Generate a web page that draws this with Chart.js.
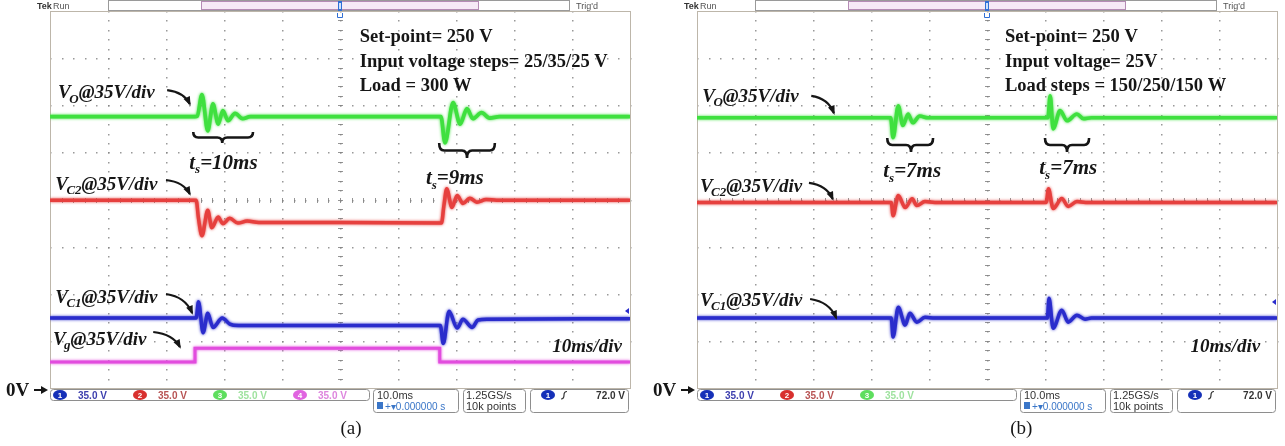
<!DOCTYPE html>
<html>
<head>
<meta charset="utf-8">
<script src="https://cdn.jsdelivr.net/npm/chart.js@4.4.1/dist/chart.umd.min.js"></script>
<style>
    html, body { margin: 0; padding: 0; background: #fff; }
    #wrap { position: relative; width: 1285px; height: 446px; overflow: hidden; }
    canvas { position: absolute; top: 0; }
    #scopeA { left: 0; }
    #scopeB { left: 647px; }
</style>
</head>
<body>
<div id="wrap">
    <canvas id="scopeA" width="640" height="446"></canvas>
    <canvas id="scopeB" width="638" height="446"></canvas>
</div>
<script>
'use strict';

// 10 ms/div over 10 divisions, 35 V/div over 8 divisions (0 V at the bottom edge)
const timeTicks = [0, 10, 20, 30, 40, 50, 60, 70, 80, 90, 100];
const voltTicks = [0, 35, 70, 105, 140, 175, 210, 245, 280];
const channelScales = ['35.0 V', '35.0 V', '35.0 V', '35.0 V'];

// (a) input voltage steps 25/35/25 V -- points are [ms, V]
const aVo = [[0, 201.5], [25.0, 201.5], [25.4, 202], [26.2, 218], [27.2, 191], [28.1, 211], [29.0, 196],
    [29.8, 206], [30.7, 198.5], [31.9, 204], [33.2, 200], [34.5, 201.5], [67.4, 201.5], [68.1, 182],
    [69.5, 212], [70.7, 196], [71.9, 207.5], [72.9, 200], [74.4, 204.5], [75.8, 200.5], [77.5, 201.5], [100, 201.5]];
const aVc2 = [[0, 139.5], [25.2, 139.5], [25.6, 126], [26.2, 113], [27.2, 132], [27.9, 119], [29.0, 127],
    [29.8, 122], [31.0, 126], [32.4, 122.5], [34.0, 124], [36.0, 123], [50.0, 123], [67.5, 122.5], [67.9, 135],
    [68.4, 148], [69.3, 134], [70.2, 143], [71.2, 137], [72.4, 141], [73.6, 138], [75.2, 140], [77.0, 139.5], [100, 139.5]];
const aVc1 = [[0, 52], [25.2, 52], [25.6, 64], [26.4, 41], [27.2, 55.5], [28.1, 45], [29.7, 52], [31.0, 47.5],
    [32.5, 46.5], [67.3, 46.5], [67.8, 33], [68.8, 57], [70.2, 44.5], [71.2, 51], [72.8, 45], [73.8, 50.5],
    [75.5, 51], [100, 51.5]];
const aVg = [[0, 19.3], [25.0, 19.3], [25.0, 29.6], [67.2, 29.6], [67.2, 19.3], [100, 19.3]];

// (b) load steps 150/250/150 W -- points are [ms, V]
const bVo = [[0, 200.7], [33.4, 200.7], [33.8, 186], [34.7, 209.5], [35.5, 195], [36.4, 203.5], [37.2, 197],
    [38.4, 202], [39.8, 200.7], [60.5, 200.7], [60.9, 217], [61.4, 192.5], [62.6, 206], [63.8, 198.5],
    [65.5, 203.5], [66.6, 200], [68.0, 200.7], [100, 200.7]];
const bVc2 = [[0, 137.8], [33.5, 137.8], [33.8, 128], [34.7, 143], [35.9, 134], [37.1, 140.5], [37.9, 135.5],
    [39.3, 138.5], [41.0, 137.8], [60.2, 137.8], [60.6, 148], [61.4, 133.3], [62.9, 140.7], [64.0, 134.8],
    [65.5, 138.5], [67.0, 137.8], [100, 137.8]];
const bVc1 = [[0, 51.9], [33.5, 51.9], [33.8, 37.8], [34.7, 60], [35.9, 46.7], [36.7, 55.6], [37.9, 48.9],
    [39.3, 52.6], [41.0, 51.9], [60.4, 51.9], [60.7, 66.7], [61.4, 44.4], [62.9, 57.8], [64.0, 48.9],
    [65.5, 54.1], [66.9, 51.1], [68.0, 51.9], [100, 51.9]];

(function () {
    const SERIF = '"Liberation Serif", "Times New Roman", serif';
    const SANS = '"Liberation Sans", Arial, sans-serif';
    const INK = '#161616';

    const COLORS = {
        ch1: '#2a2ccc',
        ch2: '#e6403e',
        ch3: '#3fe03f',
        ch4: '#e24cde',
    };

    const panels = [
        {
            id: 'scopeA',
            right: 10,
            traces: [
                { points: aVg, color: COLORS.ch4, width: 3, step: true },
                { points: aVc1, color: COLORS.ch1, width: 3.5 },
                { points: aVc2, color: COLORS.ch2, width: 3.5 },
                { points: aVo, color: COLORS.ch3, width: 3.7 },
            ],
            channels: 4,
            info: ['Set-point= 250 V', 'Input voltage steps= 25/35/25 V', 'Load = 300 W'],
            infoT: 53.4,
            labels: [
                { sub: 'O', t: 1.4, v: 219.8, arrow: [20.2, 221.3, 24.1, 210.9] },
                { sub: 'C2', t: 0.9, v: 151.5, arrow: [20.0, 154.5, 24.1, 144.1] },
                { sub: 'C1', t: 0.9, v: 67.6, arrow: [20.0, 69.8, 24.5, 55.7] },
                { sub: 'g', t: 0.5, v: 36.4, arrow: [17.8, 41.6, 22.4, 30.5] },
            ],
            braces: [
                { t1: 24.7, t2: 35.0, tip: 29.7, top: 190.1, low: 182.0, text: '10ms', tt: 29.9, tv: 167.9 },
                { t1: 67.1, t2: 76.7, tip: 71.9, top: 182.0, low: 170.8, text: '9ms', tt: 69.8, tv: 156.7 },
            ],
            divT: 98.6,
            trigV: 57.2,
            caption: '(a)',
            captionT: 51.9,
        },
        {
            id: 'scopeB',
            right: 8,
            traces: [
                { points: bVc1, color: COLORS.ch1, width: 3.5 },
                { points: bVc2, color: COLORS.ch2, width: 3.5 },
                { points: bVo, color: COLORS.ch3, width: 3.7 },
            ],
            channels: 3,
            info: ['Set-point= 250 V', 'Input voltage= 25V', 'Load steps = 150/250/150 W'],
            infoT: 53.1,
            labels: [
                { sub: 'O', t: 0.9, v: 216.9, arrow: [19.7, 216.9, 23.6, 204.2] },
                { sub: 'C2', t: 0.5, v: 150.0, arrow: [19.3, 152.3, 23.4, 140.4] },
                { sub: 'C1', t: 0.5, v: 65.4, arrow: [19.5, 66.1, 24.0, 52.0] },
            ],
            braces: [
                { t1: 32.8, t2: 40.7, tip: 36.9, top: 185.7, low: 175.3, text: '7ms', tt: 37.1, tv: 161.9 },
                { t1: 60.0, t2: 67.6, tip: 63.8, top: 185.7, low: 175.3, text: '7ms', tt: 64.0, tv: 164.1 },
            ],
            divT: 97.1,
            trigV: 63.9,
            caption: '(b)',
            captionT: 55.9,
        },
    ];

    // dotted Tek graticule, built from the tick arrays
    const graticulePlugin = {
        id: 'graticule',
        beforeDatasetsDraw(chart) {
            const { ctx, chartArea: a, scales: { x, y } } = chart;
            const tMid = timeTicks[Math.floor(timeTicks.length / 2)];
            const vMid = voltTicks[Math.floor(voltTicks.length / 2)];
            const tStep = (timeTicks[1] - timeTicks[0]) / 5;
            const vStep = (voltTicks[1] - voltTicks[0]) / 5;
            const tMax = timeTicks[timeTicks.length - 1];
            const vMax = voltTicks[voltTicks.length - 1];
            ctx.save();
            ctx.fillStyle = 'rgba(135,135,135,0.85)';
            timeTicks.slice(1, -1).forEach(t => {
                const px = Math.round(x.getPixelForValue(t));
                for (let v = 0; v <= vMax + 0.01; v += vStep) {
                    ctx.fillRect(px, Math.round(y.getPixelForValue(v)), 1.5, 1.5);
                }
            });
            voltTicks.slice(1, -1).forEach(v => {
                const py = Math.round(y.getPixelForValue(v));
                for (let t = 0; t <= tMax + 0.01; t += tStep) {
                    ctx.fillRect(Math.round(x.getPixelForValue(t)), py, 1.5, 1.5);
                }
            });
            // centre cross with minor ticks
            ctx.strokeStyle = 'rgba(130,130,130,0.85)';
            ctx.lineWidth = 1;
            const cx = Math.round(x.getPixelForValue(tMid)) + 0.5;
            const cy = Math.round(y.getPixelForValue(vMid)) + 0.5;
            ctx.beginPath();
            for (let v = 0; v <= vMax + 0.01; v += vStep) {
                const py = Math.round(y.getPixelForValue(v)) + 0.5;
                ctx.moveTo(cx - 2.5, py); ctx.lineTo(cx + 2.5, py);
            }
            for (let t = 0; t <= tMax + 0.01; t += tStep) {
                const px = Math.round(x.getPixelForValue(t)) + 0.5;
                ctx.moveTo(px, cy - 2.5); ctx.lineTo(px, cy + 2.5);
            }
            ctx.stroke();
            ctx.strokeStyle = '#bdb6aa';
            ctx.strokeRect(Math.round(a.left) + 0.5, Math.round(a.top) + 0.5,
                Math.round(a.right - a.left), Math.round(a.bottom - a.top));
            ctx.restore();
        },
    };

    // soft phosphor glow around each trace
    const glowPlugin = {
        id: 'traceGlow',
        beforeDatasetDraw(chart, args) {
            const ctx = chart.ctx;
            ctx.save();
            ctx.shadowColor = chart.data.datasets[args.index].borderColor;
            ctx.shadowBlur = 3;
        },
        afterDatasetDraw(chart) {
            chart.ctx.restore();
        },
    };

    function subLabel(ctx, x, cy, sub, rest, size) {
        const y = cy + size * 0.33;
        ctx.font = `italic bold ${size}px ${SERIF}`;
        ctx.fillText('V', x, y);
        x += ctx.measureText('V').width - 1.5;
        ctx.font = `italic bold ${Math.round(size * 0.66)}px ${SERIF}`;
        ctx.fillText(sub, x, y + size * 0.22);
        x += ctx.measureText(sub).width;
        ctx.font = `italic bold ${size}px ${SERIF}`;
        ctx.fillText(rest, x, y);
    }

    function tsLabel(ctx, cx, cy, value, size) {
        const big = `italic bold ${size}px ${SERIF}`;
        const small = `italic bold ${Math.round(size * 0.62)}px ${SERIF}`;
        ctx.font = big;
        const wT = ctx.measureText('t').width;
        const wR = ctx.measureText('=' + value).width;
        ctx.font = small;
        const wS = ctx.measureText('s').width;
        let x = cx - (wT + wS + wR) / 2;
        const y = cy + size * 0.33;
        ctx.font = big;
        ctx.fillText('t', x, y);
        x += wT;
        ctx.font = small;
        ctx.fillText('s', x, y + size * 0.22);
        x += wS;
        ctx.font = big;
        ctx.fillText('=' + value, x, y);
    }

    function arrow(ctx, x1, y1, x2, y2) {
        const qx = x2 - (x2 - x1) * 0.25;
        const qy = y1 + (y2 - y1) * 0.15;
        ctx.beginPath();
        ctx.moveTo(x1, y1);
        ctx.quadraticCurveTo(qx, qy, x2, y2);
        ctx.lineWidth = 2.2;
        ctx.stroke();
        const ang = Math.atan2(y2 - qy, x2 - qx);
        ctx.beginPath();
        ctx.moveTo(x2 + 2 * Math.cos(ang), y2 + 2 * Math.sin(ang));
        ctx.lineTo(x2 - 8 * Math.cos(ang - 0.45), y2 - 8 * Math.sin(ang - 0.45));
        ctx.lineTo(x2 - 8 * Math.cos(ang + 0.45), y2 - 8 * Math.sin(ang + 0.45));
        ctx.closePath();
        ctx.fill();
    }

    function brace(ctx, x1, x2, xc, yEnd, yTip) {
        const mid = (yEnd + yTip) / 2;
        const r = 5;
        ctx.beginPath();
        ctx.moveTo(x1, yEnd);
        ctx.quadraticCurveTo(x1, mid, x1 + r, mid);
        ctx.lineTo(xc - r, mid);
        ctx.quadraticCurveTo(xc, mid, xc, yTip);
        ctx.quadraticCurveTo(xc, mid, xc + r, mid);
        ctx.lineTo(x2 - r, mid);
        ctx.quadraticCurveTo(x2, mid, x2, yEnd);
        ctx.lineWidth = 2.6;
        ctx.stroke();
    }

    function badge(ctx, cx, cy, color, num) {
        ctx.fillStyle = color;
        ctx.beginPath();
        ctx.ellipse(cx, cy, 7, 5, 0, 0, Math.PI * 2);
        ctx.fill();
        ctx.fillStyle = '#fff';
        ctx.font = `bold 8px ${SANS}`;
        ctx.textAlign = 'center';
        ctx.fillText(num, cx, cy + 3);
        ctx.textAlign = 'left';
    }

    function box(ctx, x, y, w, h) {
        ctx.beginPath();
        ctx.roundRect(x + 0.5, y + 0.5, w, h, 3);
        ctx.strokeStyle = '#8e8e8e';
        ctx.lineWidth = 1;
        ctx.stroke();
    }

    function drawTopBar(ctx, a) {
        const L = Math.round(a.left);
        const T = Math.round(a.top);
        ctx.fillStyle = '#333';
        ctx.font = `bold 9px ${SANS}`;
        ctx.fillText('Tek', L - 13, T - 2);
        ctx.fillStyle = '#555';
        ctx.font = `9px ${SANS}`;
        ctx.fillText('Run', L + 3, T - 2);
        ctx.fillText("Trig'd", L + 526, T - 2);
        ctx.strokeStyle = '#9a9a9a';
        ctx.lineWidth = 1;
        ctx.strokeRect(L + 58.5, 0.5, 461, T - 1);
        ctx.fillStyle = '#f6eaf6';
        ctx.fillRect(L + 151, 1, 277, T - 2);
        ctx.strokeStyle = '#b58cb5';
        ctx.strokeRect(L + 151.5, 1.5, 277, T - 3);
        const cx = (a.left + a.right) / 2;
        ctx.fillStyle = '#2f6fd6';
        ctx.fillRect(cx - 2, 1, 4, 10);
        ctx.fillStyle = '#cfe0fa';
        ctx.fillRect(cx - 1, 3, 2, 6);
        ctx.strokeStyle = '#2f6fd6';
        ctx.beginPath();
        ctx.moveTo(cx - 2.5, 13);
        ctx.lineTo(cx - 2.5, 17.5);
        ctx.lineTo(cx + 2.5, 17.5);
        ctx.lineTo(cx + 2.5, 13);
        ctx.stroke();
    }

    function drawStatusBar(ctx, a, channels) {
        const L = Math.round(a.left);
        const B = Math.round(a.bottom);
        const badgeColors = ['#1530b8', '#d8302e', '#5ede5e', '#e064e0'];
        const textColors = ['#3d3fae', '#b85454', '#9fe29f', '#de86de'];
        ctx.fillStyle = '#fff';
        ctx.fillRect(L, B + 1, 320, 12);
        box(ctx, L, B + 1, 319, 11);
        for (let i = 0; i < channels; i++) {
            const bx = L + 10 + i * 80;
            badge(ctx, bx, B + 7, badgeColors[i], String(i + 1));
            ctx.fillStyle = textColors[i];
            ctx.font = `bold 10px ${SANS}`;
            ctx.fillText(channelScales[i], bx + 18, B + 11);
        }
        box(ctx, L + 323, B + 1, 85, 23);
        ctx.fillStyle = '#333';
        ctx.font = `11px ${SANS}`;
        ctx.fillText('10.0ms', L + 327, B + 11);
        ctx.fillStyle = '#3a76c8';
        ctx.fillRect(L + 327, B + 14, 6, 7);
        ctx.font = `10px ${SANS}`;
        ctx.fillText('+\u25BE0.000000 s', L + 335, B + 21.5);
        box(ctx, L + 413, B + 1, 62, 23);
        ctx.fillStyle = '#333';
        ctx.font = `11px ${SANS}`;
        ctx.fillText('1.25GS/s', L + 416, B + 11);
        ctx.fillText('10k points', L + 416, B + 21.5);
        box(ctx, L + 480, B + 1, 98, 23);
        badge(ctx, L + 498, B + 7, badgeColors[0], '1');
        ctx.strokeStyle = '#333';
        ctx.lineWidth = 1.2;
        ctx.beginPath();
        ctx.moveTo(L + 511, B + 11);
        ctx.quadraticCurveTo(L + 514, B + 11, L + 514, B + 7);
        ctx.quadraticCurveTo(L + 514, B + 3.5, L + 517, B + 3.5);
        ctx.stroke();
        ctx.fillStyle = '#333';
        ctx.font = `bold 10px ${SANS}`;
        ctx.textAlign = 'right';
        ctx.fillText('72.0 V', L + 575, B + 11);
        ctx.textAlign = 'left';
    }

    function overlayPlugin(panel) {
        return {
            id: 'scopeOverlay',
            afterDraw(chart) {
                const { ctx, chartArea: a, scales: { x, y } } = chart;
                const px = t => x.getPixelForValue(t);
                const py = v => y.getPixelForValue(v);
                ctx.save();
                drawTopBar(ctx, a);
                drawStatusBar(ctx, a, panel.channels);

                ctx.fillStyle = INK;
                ctx.strokeStyle = INK;
                ctx.textBaseline = 'middle';
                ctx.font = `bold 18.5px ${SERIF}`;
                const infoV = [260.7, 242.1, 224.3];
                panel.info.forEach((line, i) => {
                    ctx.fillText(line, px(panel.infoT), py(infoV[i]));
                });
                ctx.textBaseline = 'alphabetic';

                panel.labels.forEach(lb => {
                    subLabel(ctx, px(lb.t), py(lb.v), lb.sub, '@35V/div', 19);
                    const [t1, v1, t2, v2] = lb.arrow;
                    arrow(ctx, px(t1), py(v1), px(t2), py(v2));
                });

                panel.braces.forEach(br => {
                    brace(ctx, px(br.t1), px(br.t2), px(br.tip), py(br.top), py(br.low));
                    tsLabel(ctx, px(br.tt), py(br.tv), br.text, 21);
                });

                ctx.font = `italic bold 19px ${SERIF}`;
                ctx.textAlign = 'right';
                ctx.fillText('10ms/div', px(panel.divT), py(31.2) + 6);
                ctx.textAlign = 'left';

                // trigger level marker on the right edge
                const ty = py(panel.trigV);
                ctx.fillStyle = COLORS.ch1;
                ctx.beginPath();
                ctx.moveTo(a.right - 1, ty - 3);
                ctx.lineTo(a.right - 5, ty);
                ctx.lineTo(a.right - 1, ty + 3);
                ctx.closePath();
                ctx.fill();

                // 0 V reference arrow
                ctx.fillStyle = INK;
                ctx.strokeStyle = INK;
                ctx.font = `bold 19px ${SERIF}`;
                ctx.fillText('0V', a.left - 44, a.bottom + 8);
                ctx.lineWidth = 2;
                ctx.beginPath();
                ctx.moveTo(a.left - 16, a.bottom + 2);
                ctx.lineTo(a.left - 7, a.bottom + 2);
                ctx.stroke();
                ctx.beginPath();
                ctx.moveTo(a.left - 2, a.bottom + 2);
                ctx.lineTo(a.left - 9, a.bottom - 2);
                ctx.lineTo(a.left - 9, a.bottom + 6);
                ctx.closePath();
                ctx.fill();

                ctx.font = `19px ${SERIF}`;
                ctx.textAlign = 'center';
                ctx.fillText(panel.caption, px(panel.captionT), a.bottom + 46);
                ctx.restore();
            },
        };
    }

    function initScope(panel) {
        const canvas = document.getElementById(panel.id);
        if (!canvas || typeof Chart === 'undefined') return;

        new Chart(canvas, {
            type: 'line',
            data: {
                datasets: panel.traces.map(tr => ({
                    data: tr.points.map(([t, v]) => ({ x: t, y: v })),
                    borderColor: tr.color,
                    borderWidth: tr.width,
                    pointRadius: 0,
                    fill: false,
                    tension: tr.step ? 0 : 0.4,
                    cubicInterpolationMode: tr.step ? 'default' : 'monotone',
                })),
            },
            options: {
                responsive: false,
                animation: false,
                events: [],
                layout: { padding: { left: 50, right: panel.right, top: 11, bottom: 58 } },
                plugins: {
                    legend: { display: false },
                    tooltip: { enabled: false },
                },
                scales: {
                    x: { type: 'linear', min: timeTicks[0], max: timeTicks[timeTicks.length - 1], display: false },
                    y: { type: 'linear', min: voltTicks[0], max: voltTicks[voltTicks.length - 1], display: false },
                },
            },
            plugins: [graticulePlugin, glowPlugin, overlayPlugin(panel)],
        });
    }

    panels.forEach(initScope);
})();
</script>
</body>
</html>
